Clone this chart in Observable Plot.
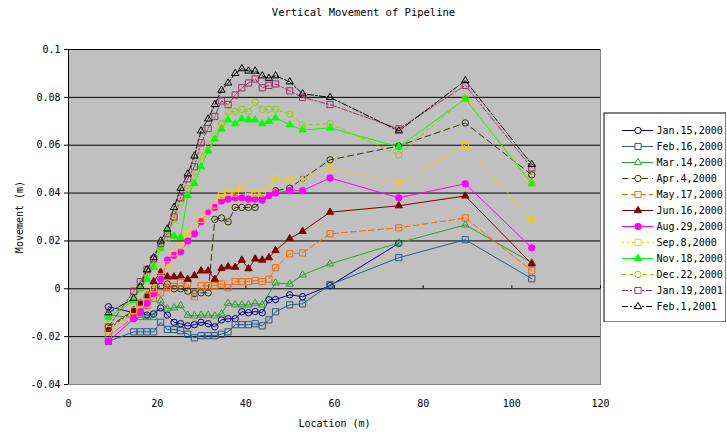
<!DOCTYPE html>
<html><head><meta charset="utf-8">
<script src="https://cdn.jsdelivr.net/npm/d3@7"></script>
<script src="https://cdn.jsdelivr.net/npm/@observablehq/plot@0.6"></script>
<style>
body{margin:0;background:#fff;}
#wrap{position:relative;width:727px;height:436px;overflow:hidden;font-family:"DejaVu Sans Mono",monospace;}
#title{height:24px;line-height:24px;text-align:center;font-size:10.5px;color:#000;}
#legend{position:absolute;left:603px;top:112px;}
</style></head><body>
<div id="wrap"><div id="title">Vertical Movement of Pipeline</div><div id="chart"></div><div id="legend"></div></div>
<script>
// ---- data ----
const locations = [9, 14.7, 16.2, 17.7, 19.2, 20.8, 22.3, 23.8, 25.3, 26.9, 28.4, 29.9, 31.5, 33, 34.5, 36, 37.6, 39.1, 40.6, 42.1, 43.7, 45.2, 46.7, 49.9, 52.8, 59, 74.5, 89.5, 104.5];
const seriesNames = ["Jan.15,2000","Feb.16,2000","Mar.14,2000","Apr.4,2000","May.17,2000","Jun.16,2000","Aug.29,2000","Sep.8,2000","Nov.18,2000","Dec.22,2000","Jan.19,2001","Feb.1,2001"];
const jan15 = [-0.0075,-0.010,-0.010,-0.011,-0.0105,-0.008,-0.011,-0.014,-0.0146,-0.0155,-0.015,-0.014,-0.0146,-0.0159,-0.013,-0.0125,-0.0125,-0.0096,-0.010,-0.0095,-0.010,-0.0046,-0.0045,-0.0025,-0.0033,0.0013,0.019,null,null];
const feb16 = [-0.022,-0.018,-0.018,-0.018,-0.018,-0.014,-0.017,-0.017,-0.0175,-0.019,-0.0205,-0.0196,-0.0196,-0.0196,-0.019,-0.018,-0.015,-0.015,-0.015,-0.0146,-0.0155,-0.013,-0.0096,-0.0067,-0.0063,0.0017,0.013,0.0205,0.0042];
const mar14 = [-0.011,-0.012,-0.012,-0.012,-0.012,-0.005,-0.0084,-0.008,-0.007,-0.011,-0.0113,-0.011,-0.011,-0.0113,-0.0105,-0.006,-0.0067,-0.0067,-0.0067,-0.006,-0.0067,null,0.0025,0.002,0.0058,0.0104,0.0192,0.0267,0.0109];
const apr4 = [-0.016,-0.009,-0.006,-0.003,0.000,0.001,0.002,0.000,0.000,-0.001,-0.002,-0.0017,-0.0017,0.029,0.0296,0.028,0.034,0.034,0.034,0.034,0.0375,0.039,0.041,0.042,0.046,0.0539,0.0597,0.0693,0.0476];
const may17 = [-0.0196,-0.012,-0.010,-0.007,-0.004,-0.0017,0.0004,0.001,0.0025,0.002,-0.0033,0.0013,0.0013,0.0013,0.002,0.0004,0.003,0.003,0.003,0.0035,0.003,0.004,0.0088,0.0146,0.015,0.023,0.0255,0.0296,0.0075];
const jun16 = [-0.017,-0.009,-0.006,-0.003,0.003,0.007,0.005,0.005,0.0054,0.004,0.0055,0.0075,0.0075,0.004,0.0085,0.0092,0.009,0.012,0.0084,0.0125,0.012,0.013,0.016,0.021,0.024,0.032,0.0347,0.0388,0.0104];
const aug29 = [-0.022,-0.0125,-0.0096,-0.006,-0.002,0.004,0.012,0.014,0.0155,0.020,0.023,0.028,0.032,0.034,0.0367,0.0375,0.038,0.038,0.0375,0.0375,0.037,0.039,0.040,0.041,0.041,0.0463,0.038,0.0439,0.0171];
const sep8 = [-0.017,-0.009,-0.006,-0.003,0.000,0.0075,0.010,0.015,0.018,0.023,0.026,0.029,0.032,0.035,0.039,0.0405,0.040,0.0426,0.041,0.040,0.040,0.042,0.046,0.0455,0.046,0.0505,0.0439,0.060,0.0288];
const nov18 = [-0.012,-0.005,0.000,0.004,0.009,0.017,0.024,0.022,0.0215,0.039,0.044,0.051,0.0576,0.0626,0.0668,0.0706,0.069,0.071,0.0706,0.0706,0.069,0.070,0.0714,0.0685,0.0664,0.0672,0.0593,0.0793,0.0439];
const dec22 = [-0.012,-0.004,0.000,0.006,0.010,0.017,0.021,0.029,0.036,0.042,0.047,0.0555,0.0605,0.064,0.069,0.074,0.074,0.075,0.074,0.078,0.075,0.075,0.075,0.073,0.0685,0.069,0.056,0.0797,0.044];
const jan19 = [-0.016,-0.001,0.003,0.008,0.0125,0.019,0.023,0.030,0.038,0.046,0.051,0.061,0.067,0.072,0.0785,0.077,0.081,0.084,0.086,0.0877,0.084,0.085,0.0856,0.0827,0.080,0.077,0.0668,0.085,0.0505];
const feb1 = [-0.010,-0.004,0.001,0.008,0.013,0.020,0.025,0.034,0.042,0.048,0.0555,0.066,0.071,0.077,0.083,0.086,0.090,0.092,0.091,0.091,0.089,0.088,0.089,0.0865,0.0815,0.080,0.066,0.087,0.052];
const xTicks = [0, 20, 40, 60, 80, 100, 120];
const xTickLabels = ["0","20","40","60","80","100","120"];
const yTicks = [-0.04, -0.02, 0, 0.02, 0.04, 0.06, 0.08, 0.1];
const yTickLabels = ["-0.04","-0.02","0","0.02","0.04","0.06","0.08","0.1"];

// ---- styles ----
const valuesBySeries = [jan15, feb16, mar14, apr4, may17, jun16, aug29, sep8, nov18, dec22, jan19, feb1];
const styles = [
  {color:"#000080", dash:null, symbol:"circle", filled:false},
  {color:"#2a5a8c", dash:null, symbol:"square", filled:false},
  {color:"#2e9e2e", dash:null, symbol:"triangle", filled:false},
  {color:"#333300", dash:"6,4", symbol:"circle", filled:false},
  {color:"#ff6600", dash:"6,3", symbol:"square", filled:false},
  {color:"#800000", dash:null, symbol:"triangle", filled:true},
  {color:"#ff00ff", dash:null, symbol:"circle", filled:true},
  {color:"#ffcc00", dash:"2,3", symbol:"square", filled:false},
  {color:"#00ff00", dash:null, symbol:"triangle", filled:true},
  {color:"#99cc00", dash:"4,3", symbol:"circle", filled:false},
  {color:"#993366", dash:"6,2,2,2", symbol:"square", filled:false},
  {color:"#000000", dash:"6,2,2,2", symbol:"triangle", filled:false}
];
const symbolR = {circle: 3.2, square: 3.5, triangle: 2.7};

const rows = [];
seriesNames.forEach((name, si) => {
  valuesBySeries[si].forEach((v, i) => {
    if (v !== null) rows.push({series: name, loc: locations[i], value: v});
  });
});

const seriesMarks = [];
seriesNames.forEach((name, si) => {
  const st = styles[si];
  const d = rows.filter(r => r.series === name);
  seriesMarks.push(Plot.line(d, {x: "loc", y: "value", stroke: st.color, strokeWidth: 1, strokeDasharray: st.dash || undefined}));
});
seriesNames.forEach((name, si) => {
  const st = styles[si];
  const d = rows.filter(r => r.series === name);
  seriesMarks.push(Plot.dot(d, {x: "loc", y: "value", symbol: st.symbol, r: symbolR[st.symbol],
    stroke: st.color, strokeWidth: 1, fill: st.filled ? st.color : "none"}));
});

const chart = Plot.plot({
  width: 727, height: 412,
  marginLeft: 68, marginRight: 127, marginTop: 25, marginBottom: 52,
  style: {fontFamily: "'DejaVu Sans Mono', monospace", fontSize: "10px", background: "transparent", color: "#000"},
  x: {domain: [0, 120]},
  y: {domain: [-0.04, 0.1]},
  marks: [
    Plot.frame({fill: "#c0c0c0", stroke: "#808080"}),
    Plot.ruleY(yTicks.filter(d => d > -0.04), {stroke: "#000", strokeWidth: 1}),
    Plot.ruleX([0], {stroke: "#000"}),
    Plot.ruleX(xTicks, {x: d => d, y1: 0, y2: 0, insetTop: -3, stroke: "#000"}),
    Plot.axisY({ticks: yTicks, tickFormat: d => yTickLabels[yTicks.indexOf(d)], tickSize: 4, tickPadding: 4,
      label: "Movement (m)", labelAnchor: "center", labelArrow: "none", labelOffset: 53, fontSize: 10}),
    Plot.axisX({ticks: xTicks, tickFormat: d => xTickLabels[xTicks.indexOf(d)], tickSize: 0, tickPadding: 15,
      label: "Location (m)", labelAnchor: "center", labelArrow: "none", labelOffset: 42, fontSize: 10}),
    ...seriesMarks
  ]
});
document.getElementById("chart").appendChild(chart);

// ---- legend ----
const legendMarks = [Plot.frame({stroke: "#000", fill: "#fff", inset: 0.5})];
seriesNames.forEach((name, si) => {
  const st = styles[si];
  legendMarks.push(Plot.ruleY([name], {y: d => d, x1: 19, x2: 50, stroke: st.color, strokeWidth: 1, strokeDasharray: st.dash || undefined}));
  legendMarks.push(Plot.dot([name], {y: d => d, x: 34.5, symbol: st.symbol, r: symbolR[st.symbol],
    stroke: st.color, strokeWidth: 1, fill: st.filled ? st.color : "#fff"}));
});
legendMarks.push(Plot.text(seriesNames, {y: d => d, x: 53, text: d => d, textAnchor: "start", fontSize: 10, fill: "#000"}));
const legend = Plot.plot({
  width: 123, height: 210, margin: 0,
  style: {fontFamily: "'DejaVu Sans Mono', monospace", fontSize: "10px", background: "transparent", color: "#000"},
  x: {domain: [0, 123], range: [0, 123], axis: null},
  y: {type: "point", domain: seriesNames, range: [10, 202], axis: null},
  marks: legendMarks
});
document.getElementById("legend").appendChild(legend);
</script>
</body></html>
